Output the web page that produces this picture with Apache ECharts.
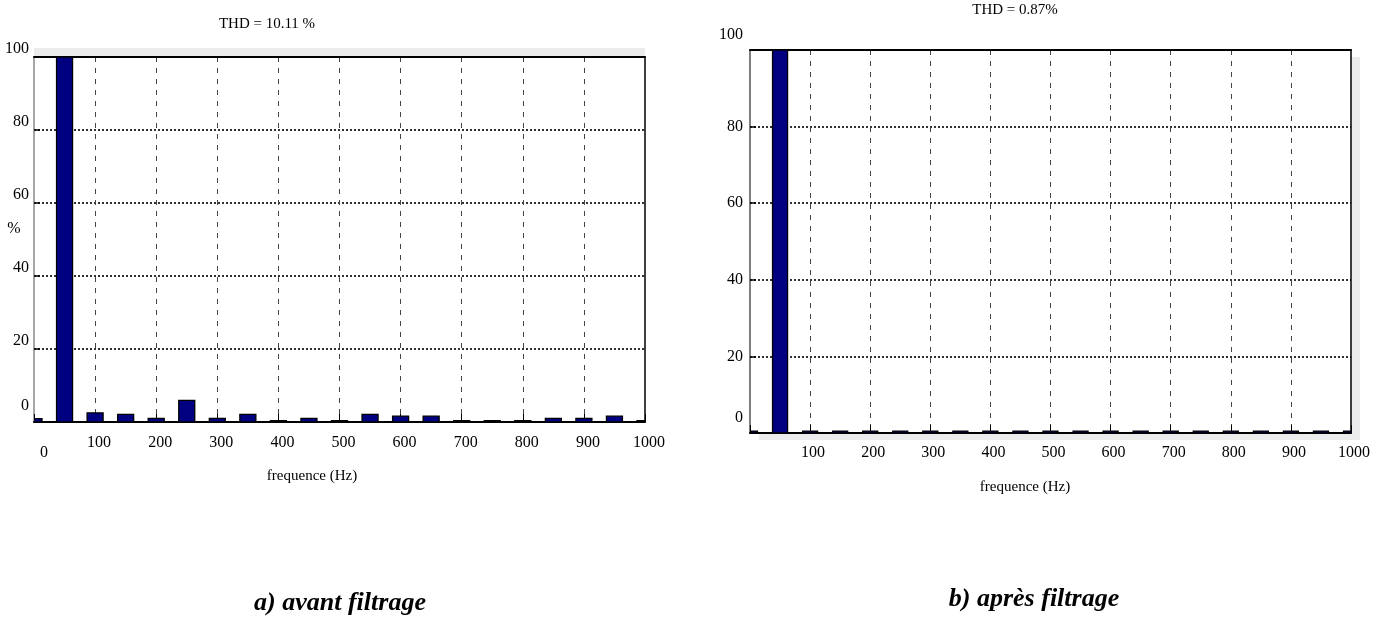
<!DOCTYPE html>
<html><head><meta charset="utf-8">
<script src="https://cdn.jsdelivr.net/npm/echarts@6/dist/echarts.min.js"></script>
<style>html,body{margin:0;padding:0;background:#fff}#c{width:1376px;height:619px}</style>
</head><body><div id="c"></div><script>
// harmonic frequencies (Hz)
const freqs = [0,50,100,150,200,250,300,350,400,450,500,550,600,650,700,750,800,850,900,950,1000];
// amplitude (% of fundamental) before filtering
const before = [0.9,100,2.5,2.1,1.0,5.9,1.0,2.1,0.4,1.0,0.4,2.1,1.6,1.6,0.4,0.4,0.4,1.0,1.0,1.6,0.4];
// amplitude (% of fundamental) after filtering
const after = [0.5,100,0.5,0.5,0.5,0.5,0.5,0.5,0.5,0.5,0.5,0.5,0.5,0.5,0.5,0.5,0.5,0.5,0.5,0.5,0.5];
const xTicks = [0,100,200,300,400,500,600,700,800,900,1000];
const yTicks = [0,20,40,60,80,100];
const titles = ['THD = 10.11 %', 'THD = 0.87%'];
const captions = ['a) avant filtrage', 'b) après filtrage'];
const xName = 'frequence (Hz)';
const yName = '%';

const FONT = "'Liberation Serif', 'Times New Roman', serif";
const chart = echarts.init(document.getElementById('c'));

function xAxisCfg(idx, showZero, labelMargin, pad){
  return {
    gridIndex: idx, type: 'value', min: 0, max: 1000, interval: 100,
    axisLine: {show: true, onZero: false, lineStyle: {color: '#000', width: 2}},
    axisTick: {show: true, inside: true, length: 8, lineStyle: {color: '#000', width: 1}},
    axisLabel: {
      margin: labelMargin, color: '#000', fontFamily: FONT, fontSize: 16, padding: pad,
      formatter: v => {
        if (!xTicks.includes(v)) return '';
        if (v === 0) return showZero ? '{z|0}' : '';
        return String(v);
      },
      rich: {z: {fontFamily: FONT, fontSize: 16, color: '#000', padding: [10, 0, 0, 12]}}
    },
    splitLine: {show: true, showMinLine: false, showMaxLine: false,
      lineStyle: {type: [5, 6], color: '#444', width: 1}}
  };
}
function yAxisCfg(idx, left){
  return {
    gridIndex: idx, type: 'value', min: 0, max: 100, interval: 20,
    axisLine: {show: true, onZero: false, lineStyle: {color: left ? '#888' : '#555', width: 1.5}},
    axisTick: {show: true, inside: true, length: 6, lineStyle: {color: '#000', width: 1.5}},
    axisLabel: {
      margin: left ? 5 : 7, color: '#000', fontFamily: FONT, fontSize: 16,
      verticalAlign: left ? 'bottom' : 'middle',
      formatter: v => {
        if (!yTicks.includes(v)) return '';
        if (!left && (v === 0 || v === 100)) return '{u|' + v + '}';
        if (left && v === 0) return '{t|' + v + '}';
        return String(v);
      },
      rich: {
        u: {fontFamily: FONT, fontSize: 16, color: '#000', padding: [0, 0, 30, 0]},
        t: {fontFamily: FONT, fontSize: 16, color: '#000', padding: [0, 0, 8, 0]}
      }
    },
    splitLine: {show: true, showMinLine: false, showMaxLine: false,
      lineStyle: {type: [2, 2], color: '#000', width: 1.6}}
  };
}
// border-only axes (top and right edges of each plot frame)
function frameX(idx){
  return {gridIndex: idx, type: 'value', min: 0, max: 1000, position: 'top',
    axisLine: {show: true, onZero: false, lineStyle: {color: '#000', width: 2}},
    axisTick: {show: false}, axisLabel: {show: false}, splitLine: {show: false}};
}
function frameY(idx){
  return {gridIndex: idx, type: 'value', min: 0, max: 100, position: 'right',
    axisLine: {show: true, onZero: false, lineStyle: {color: '#000', width: 1.5}},
    axisTick: {show: false}, axisLabel: {show: false}, splitLine: {show: false}};
}
function barSeries(idx, vals, w){
  return {
    type: 'custom', xAxisIndex: idx, yAxisIndex: idx, clip: true, z: 3,
    data: freqs.map((f, i) => [f, vals[i]]),
    renderItem: (params, api) => {
      const p0 = api.coord([api.value(0), 0]);
      const p1 = api.coord([api.value(0), api.value(1)]);
      const cs = params.coordSys;
      const r = echarts.graphic.clipRectByRect(
        {x: p0[0] - w / 2, y: p1[1], width: w, height: p0[1] - p1[1]},
        {x: cs.x, y: cs.y, width: cs.width, height: cs.height});
      if (!r) return null;
      return {type: 'rect', shape: r, style: {fill: '#000080', stroke: '#000', lineWidth: 1.3}};
    }
  };
}

const gridBase = {show: true, backgroundColor: '#fff', borderWidth: 0, shadowColor: '#ececec', shadowBlur: 0, outerBoundsMode: 'none', containLabel: false};

chart.setOption({
  animation: false,
  backgroundColor: '#fff',
  grid: [
    Object.assign({}, gridBase, {left: 34, top: 57, width: 611, height: 365, shadowOffsetY: -9}),
    Object.assign({}, gridBase, {left: 750, top: 50, width: 601, height: 383, shadowOffsetX: 9, shadowOffsetY: 7})
  ],
  xAxis: [xAxisCfg(0, true, 13, [0, 0, 0, 8]), xAxisCfg(1, false, 12, [0, 0, 0, 6]), frameX(0), frameX(1)],
  yAxis: [yAxisCfg(0, true), yAxisCfg(1, false), frameY(0), frameY(1)],
  series: [barSeries(0, before, 16), barSeries(1, after, 15)],
  graphic: [
    {type: 'text', x: 267, y: 24, style: {text: titles[0], align: 'center', verticalAlign: 'middle', font: '15px ' + FONT, fill: '#000'}},
    {type: 'text', x: 1015, y: 10, style: {text: titles[1], align: 'center', verticalAlign: 'middle', font: '15px ' + FONT, fill: '#000'}},
    {type: 'text', x: 14, y: 229, style: {text: yName, align: 'center', verticalAlign: 'middle', font: '16px ' + FONT, fill: '#000'}},
    {type: 'text', x: 312, y: 476, style: {text: xName, align: 'center', verticalAlign: 'middle', font: '15px ' + FONT, fill: '#000'}},
    {type: 'text', x: 1025, y: 487, style: {text: xName, align: 'center', verticalAlign: 'middle', font: '15px ' + FONT, fill: '#000'}},
    {type: 'text', x: 340, y: 603, style: {text: captions[0], align: 'center', verticalAlign: 'middle', font: 'italic bold 26px ' + FONT, fill: '#000'}},
    {type: 'text', x: 1034, y: 599, style: {text: captions[1], align: 'center', verticalAlign: 'middle', font: 'italic bold 26px ' + FONT, fill: '#000'}}
  ]
});
</script></body></html>
